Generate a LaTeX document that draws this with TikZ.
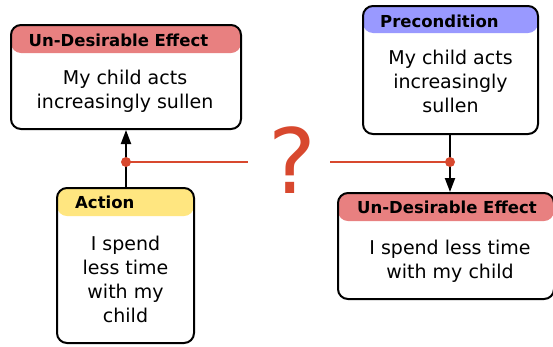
\documentclass[tikz,border=0pt]{standalone}
\usepackage{fontspec}
\setmainfont{DejaVu Sans}
\usetikzlibrary{arrows.meta}
\definecolor{udecol}{RGB}{232,128,128}
\definecolor{precol}{RGB}{153,153,255}
\definecolor{actcol}{RGB}{255,230,128}
\definecolor{redline}{RGB}{216,72,46}
\tikzset{
  box/.style={draw=black, line width=2pt, rounded corners=10pt, inner sep=0pt, fill=white},
  hdr/.style 2 args={path picture={\fill[#1] (path picture bounding box.north west) rectangle ([yshift=-#2]path picture bounding box.north east);}},
  hdrtxt/.style={font=\bfseries\fontsize{16.5}{20}\selectfont, inner sep=0pt, anchor=base west},
  bodytxt/.style={font=\fontsize{19}{24}\selectfont, inner sep=0pt, align=center, anchor=base},
  conn/.style={draw=black, line width=2pt, -{Triangle[width=10pt,length=14pt]}},
  redln/.style={draw=redline, line width=2.4pt},
  dot/.style={circle, fill=redline, inner sep=0pt, minimum size=10pt},
  qmark/.style={font=\fontsize{90}{90}\selectfont, text=redline, inner sep=0pt, anchor=base}
}
\begin{document}
\begin{tikzpicture}[x=1pt,y=-1pt]
\useasboundingbox (0,0) rectangle (553,346);
% boxes
\node[box, hdr={udecol}{28pt}, minimum width=230pt, minimum height=104pt] (ude1) at (126,77) {};
\node[box, hdr={precol}{27pt}, minimum width=175pt, minimum height=128pt] (pre) at (450.5,70) {};
\node[box, hdr={actcol}{28pt}, minimum width=137pt, minimum height=155pt] (act) at (125.5,265.5) {};
\node[box, hdr={udecol}{28pt}, minimum width=216pt, minimum height=106pt] (ude2) at (446,246) {};
% header texts
\node[hdrtxt] (ude1h) at (28.5,46) {Un-Desirable Effect};
\node[hdrtxt] (preh) at (380,27) {Precondition};
\node[hdrtxt] (acth) at (75,208) {Action};
\node[hdrtxt] (ude2h) at (357,213) {Un-Desirable Effect};
% body texts (anchor base = last line baseline)
\node[bodytxt] (ude1b) at (125,108) {My child acts\\increasingly sullen};
\node[bodytxt] (preb) at (450.5,112) {My child acts\\increasingly\\sullen};
\node[bodytxt] (actb) at (125.5,322) {I spend\\less time\\with my\\child};
\node[bodytxt] (ude2b) at (450,278) {I spend less time\\with my child};
% junction points
\coordinate (jl) at (126,162);
\coordinate (jr) at (450,162);
\coordinate (gapl) at (248,162);
\coordinate (gapr) at (330,162);
% connectors
\draw[conn] (jl |- act.north) -- (jl |- ude1.south);
\draw[conn] (jr |- pre.south) -- (jr |- ude2.north);
\draw[redln] (jl) -- (gapl);
\draw[redln] (gapr) -- (jr);
\node[dot] (dl) at (jl) {};
\node[dot] (dr) at (jr) {};
\node[qmark] (q) at (292.5,193) {?};
\end{tikzpicture}
\end{document}
